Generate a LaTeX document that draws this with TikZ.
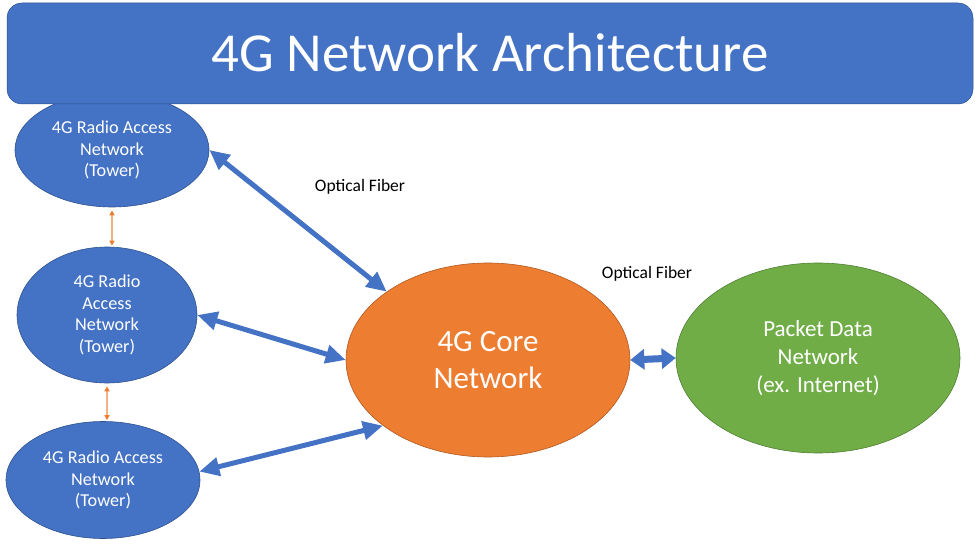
\documentclass[tikz,border=0pt]{standalone}
\usepackage{fontspec}
\setmainfont{Carlito}
\usetikzlibrary{shapes.geometric,arrows.meta}
\definecolor{myblue}{HTML}{4472C4}
\definecolor{myblueedge}{HTML}{2F528F}
\definecolor{myorange}{HTML}{ED7D31}
\definecolor{myorangeedge}{HTML}{AE5A21}
\definecolor{mylightorange}{HTML}{F4B183}
\definecolor{mygreen}{HTML}{70AD47}
\definecolor{mygreenedge}{HTML}{507E32}
\tikzset{
  ell/.style={ellipse, inner sep=0pt, align=center, text=white, line width=0.6pt},
  ran/.style={ell, fill=myblue, draw=myblueedge, font=\fontsize{18.2}{21.5}\selectfont},
  fiber/.style={draw=myblue, line width=5pt, {Triangle[length=20pt,width=18pt]}-{Triangle[length=20pt,width=18pt]}},
  blockarrow/.style={draw=myblue, line width=7pt, {Triangle[length=14pt,width=20pt]}-{Triangle[length=14pt,width=20pt]}},
  towerlink/.style={draw=mylightorange, line width=1.4pt, {Triangle[length=5pt,width=5pt,color=myorange]}-{Triangle[length=5pt,width=5pt,color=myorange]}},
  lbl/.style={font=\fontsize{17.5}{20}\selectfont, text=black, inner sep=0pt}
}
\begin{document}
\begin{tikzpicture}[x=1pt,y=-1pt]
\useasboundingbox (0,0) rectangle (975,548);
% nodes
\node[ran, minimum width=194pt, minimum height=114pt] (tl) at (112,150) {4G Radio Access\\Network\\(Tower)};
\node[rounded corners=15pt, fill=myblue, draw=myblueedge, line width=0.5pt, minimum width=966pt, minimum height=101pt, inner sep=0pt, text=white, font=\fontsize{55}{60}\selectfont] (title) at (490,53.5) {\raisebox{2pt}{4G Network Architecture}};
\node[ran, minimum width=180pt, minimum height=136pt] (ml) at (107,315) {4G Radio\\Access\\Network\\(Tower)};
\node[ran, minimum width=194pt, minimum height=117pt] (bl) at (103,480) {4G Radio Access\\Network\\(Tower)};
\node[ell, fill=myorange, draw=myorangeedge, minimum width=284pt, minimum height=194pt, font=\fontsize{31}{37}\selectfont] (core) at (488,360) {4G Core\\Network};
\node[ell, fill=mygreen, draw=mygreenedge, minimum width=284pt, minimum height=190pt, font=\fontsize{23}{28}\selectfont] (pdn) at (818,358) {Packet Data\\Network\\(ex. Internet)};
% labels
\node[lbl] (of1) at (360,187) {Optical Fiber};
\node[lbl] (of2) at (647,274) {Optical Fiber};
% connectors
\draw[fiber] (tl.east) -- (core.146);
\draw[fiber] (ml.east) -- (core.west);
\draw[fiber] (bl.5) -- (core.212);
\draw[blockarrow] (core.east) -- (pdn.west);
\draw[towerlink, shorten <=3pt, shorten >=1pt] (tl.south) -- (tl.south |- ml.north);
\draw[towerlink, shorten <=3pt, shorten >=1pt] (ml.south) -- (ml.south |- bl.north);
\end{tikzpicture}
\end{document}
